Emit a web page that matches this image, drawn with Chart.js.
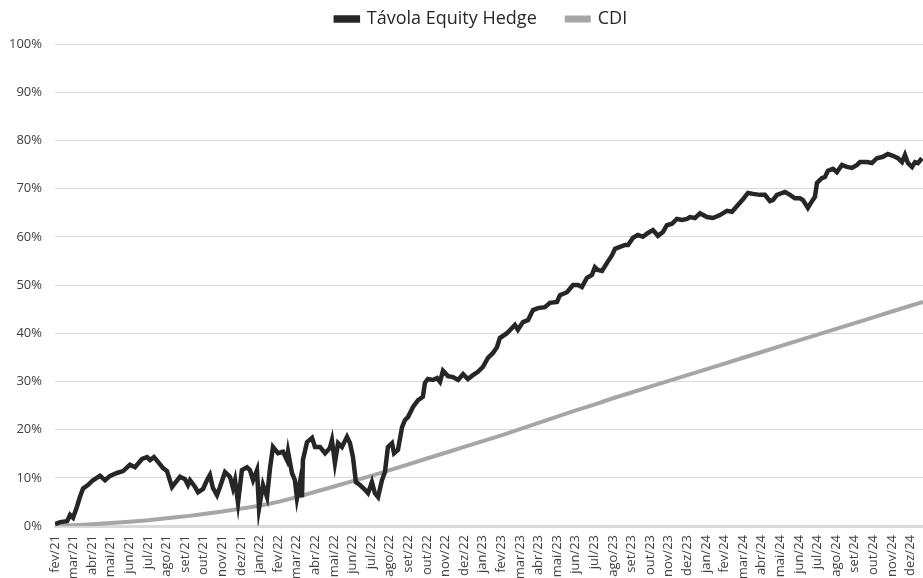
<!DOCTYPE html>
<html>
<head>
<meta charset="utf-8">
<script src="https://cdn.jsdelivr.net/npm/chart.js@4.4.1/dist/chart.umd.min.js"></script>
<style>
    html, body { margin: 0; padding: 0; background: #fff; overflow: hidden; }
    #wrap { width: 923px; height: 578px; overflow: hidden; }
</style>
</head>
<body>
<div id="wrap"><canvas id="lineChart" width="923" height="590"></canvas></div>
<script>
// month labels, fev/21 = index 0
var meses = ['fev/21', 'mar/21', 'abr/21', 'mai/21', 'jun/21', 'jul/21', 'ago/21', 'set/21', 'out/21', 'nov/21', 'dez/21',
    'jan/22', 'fev/22', 'mar/22', 'abr/22', 'mai/22', 'jun/22', 'jul/22', 'ago/22', 'set/22', 'out/22', 'nov/22', 'dez/22',
    'jan/23', 'fev/23', 'mar/23', 'abr/23', 'mai/23', 'jun/23', 'jul/23', 'ago/23', 'set/23', 'out/23', 'nov/23', 'dez/23',
    'jan/24', 'fev/24', 'mar/24', 'abr/24', 'mai/24', 'jun/24', 'jul/24', 'ago/24', 'set/24', 'out/24', 'nov/24', 'dez/24'];

// Távola Equity Hedge (x in months since fev/21, y in %)
var tavolaX = [0.00, 0.27, 0.65, 0.81, 0.97, 1.18, 1.34, 1.51, 1.77, 2.04, 2.42, 2.69, 2.96, 3.33, 3.66, 4.03, 4.30, 4.68, 4.95, 5.11,
    5.32, 5.54, 5.81, 6.02, 6.29, 6.45, 6.72, 6.99, 7.15, 7.26, 7.53, 7.69, 7.96, 8.17, 8.33, 8.49, 8.71, 8.87, 9.14, 9.41,
    9.57, 9.68, 9.84, 10.05, 10.32, 10.48, 10.65, 10.86, 10.97, 11.18, 11.40, 11.56, 11.72, 11.99, 12.26, 12.47, 12.53, 12.74, 12.90, 13.01,
    13.17, 13.28, 13.33, 13.55, 13.82, 13.98, 14.25, 14.52, 14.78, 14.89, 15.05, 15.22, 15.43, 15.70, 15.86, 16.02, 16.18, 16.40, 16.67, 16.83,
    17.04, 17.20, 17.37, 17.58, 17.74, 17.90, 18.12, 18.23, 18.44, 18.66, 18.82, 18.98, 19.25, 19.52, 19.78, 19.89, 20.05, 20.32, 20.54, 20.70,
    20.86, 21.13, 21.40, 21.67, 21.94, 22.20, 22.47, 22.74, 23.01, 23.28, 23.55, 23.76, 23.92, 24.30, 24.73, 24.89, 25.16, 25.43, 25.70, 25.97,
    26.34, 26.61, 26.99, 27.15, 27.53, 27.85, 28.12, 28.33, 28.60, 28.87, 29.03, 29.19, 29.41, 29.68, 29.95, 30.11, 30.38, 30.65, 30.81, 31.08,
    31.34, 31.61, 31.88, 32.15, 32.42, 32.69, 32.90, 33.17, 33.44, 33.71, 33.98, 34.14, 34.41, 34.68, 35.05, 35.38, 35.75, 36.13, 36.40, 36.67,
    36.99, 37.26, 37.53, 37.90, 38.17, 38.44, 38.60, 38.82, 39.25, 39.52, 39.78, 40.05, 40.22, 40.48, 40.70, 40.86, 40.97, 41.24, 41.40, 41.56,
    41.83, 42.04, 42.31, 42.58, 42.85, 43.12, 43.28, 43.66, 43.92, 44.19, 44.52, 44.78, 45.05, 45.32, 45.54, 45.70, 45.86, 46.08, 46.24, 46.40, 46.61];
var tavolaY = [0.4, 0.8, 1.0, 2.3, 1.7, 4.0, 6.0, 7.8, 8.5, 9.5, 10.4, 9.5, 10.4, 11.0, 11.4, 12.7, 12.2, 13.9, 14.3, 13.7,
    14.3, 13.3, 12.0, 11.4, 8.1, 8.9, 10.2, 9.7, 8.5, 9.5, 8.1, 7.0, 7.7, 9.5, 10.6, 7.9, 6.4, 8.1, 11.2, 10.2,
    7.9, 9.5, 4.8, 11.6, 12.2, 11.6, 9.5, 11.6, 3.7, 8.5, 6.0, 12.0, 16.4, 15.1, 15.4, 13.7, 15.4, 11.0, 9.5, 5.8,
    9.1, 6.0, 13.7, 17.4, 18.3, 16.4, 16.4, 15.1, 16.2, 17.8, 13.1, 17.2, 16.4, 18.5, 17.2, 14.3, 9.1, 8.5, 7.5, 6.8,
    9.1, 6.8, 6.0, 9.5, 11.2, 16.4, 17.2, 15.1, 15.8, 20.5, 22.0, 22.6, 24.7, 26.1, 26.8, 29.7, 30.5, 30.3, 30.7, 29.9,
    32.2, 31.1, 30.9, 30.3, 31.5, 30.5, 31.3, 32.0, 33.0, 34.9, 35.9, 37.1, 39.0, 40.0, 41.7, 40.7, 42.3, 42.7, 44.8, 45.2,
    45.4, 46.3, 46.5, 47.9, 48.5, 50.0, 50.0, 49.6, 51.5, 52.1, 53.7, 53.1, 52.9, 54.6, 56.2, 57.5, 57.9, 58.3, 58.3, 59.8,
    60.4, 60.0, 60.8, 61.4, 60.2, 61.0, 62.4, 62.7, 63.7, 63.5, 63.7, 64.1, 63.9, 64.9, 64.1, 63.9, 64.5, 65.4, 65.2, 66.4,
    67.8, 69.1, 68.9, 68.7, 68.7, 67.4, 67.6, 68.7, 69.3, 68.7, 68.0, 68.0, 67.6, 66.0, 67.4, 68.3, 71.2, 72.2, 72.4, 73.7,
    74.1, 73.4, 74.9, 74.5, 74.3, 74.9, 75.5, 75.5, 75.3, 76.3, 76.6, 77.2, 76.8, 76.3, 75.5, 77.0, 75.3, 74.5, 75.5, 75.3, 76.3];

// CDI
var cdiX = [0, 1, 2, 3, 4, 5, 6, 7, 8, 9, 10, 11, 12, 13, 14, 15, 16, 17, 18, 19, 20, 21, 22, 23,
    24, 25, 26, 27, 28, 29, 30, 31, 32, 33, 34, 35, 36, 37, 38, 39, 40, 41, 42, 43, 44, 45, 46, 46.67];
var cdiY = [0.0, 0.15, 0.35, 0.6, 0.9, 1.2, 1.6, 2.0, 2.5, 3.0, 3.6, 4.2, 5.0, 6.0, 7.1, 8.2, 9.3, 10.4, 11.6, 12.8, 14.0, 15.2, 16.4, 17.6,
    18.8, 20.1, 21.4, 22.7, 24.0, 25.2, 26.5, 27.7, 28.9, 30.1, 31.3, 32.5, 33.7, 34.9, 36.1, 37.3, 38.5, 39.7, 40.9, 42.1, 43.3, 44.5, 45.7, 46.5];

Grafico();

function Pontos(xs, ys) {
    var arr = [];
    for (var i = 0; i < xs.length; i++) {
        arr.push({ x: xs[i], y: ys[i] });
    }
    return arr;
}

function Grafico() {
    var ctx = document.getElementById('lineChart').getContext('2d');

    var fonte = "'Open Sans', sans-serif";

    // legend height fixed, and legend centred over the plot area
    var legendaAjuste = {
        id: 'legendaAjuste',
        beforeInit: function (chart) {
            var fitOrig = chart.legend.fit;
            chart.legend.fit = function () {
                fitOrig.bind(chart.legend)();
                this.height = 64;
            };
        },
        afterLayout: function (chart) {
            chart.legend.left += 20;
            chart.legend.right += 20;
        }
    };

    new Chart(ctx, {
        type: 'line',
        data: {
            datasets: [
                {
                    label: 'Távola Equity Hedge',
                    data: Pontos(tavolaX, tavolaY),
                    borderColor: '#262626',
                    backgroundColor: '#262626',
                    borderWidth: 4.5,
                    pointRadius: 0,
                    tension: 0
                },
                {
                    label: 'CDI',
                    data: Pontos(cdiX, cdiY),
                    borderColor: '#a6a6a6',
                    backgroundColor: '#a6a6a6',
                    borderWidth: 4,
                    pointRadius: 0,
                    tension: 0
                }
            ]
        },
        options: {
            responsive: false,
            animation: false,
            layout: { padding: { top: -20, left: 0, right: 0, bottom: 0 } },
            plugins: {
                tooltip: { enabled: false },
                legend: {
                    position: 'top',
                    labels: {
                        boxWidth: 22,
                        boxHeight: 3,
                        padding: 30,
                        color: '#262626',
                        font: { family: fonte, size: 18 }
                    }
                }
            },
            scales: {
                x: {
                    type: 'linear',
                    min: 0,
                    max: 46.67,
                    afterFit: function (scale) {
                        scale.height = 64;
                        scale.paddingLeft = 0;
                        scale.paddingRight = 0;
                    },
                    afterBuildTicks: function (scale) {
                        var t = [];
                        for (var i = 0; i < meses.length; i++) t.push({ value: i });
                        scale.ticks = t;
                    },
                    grid: { display: false, drawTicks: false },
                    border: { display: true, color: '#d9d9d9', width: 3 },
                    ticks: {
                        autoSkip: false,
                        minRotation: 90,
                        maxRotation: 90,
                        padding: 9,
                        color: '#404040',
                        font: { family: fonte, size: 13 },
                        callback: function (v) { return meses[v]; }
                    }
                },
                y: {
                    min: 0,
                    max: 100,
                    afterFit: function (scale) { scale.width = 55; },
                    grid: { color: '#d9d9d9', lineWidth: 1, drawTicks: false },
                    border: { display: false },
                    ticks: {
                        stepSize: 10,
                        padding: 13,
                        color: '#404040',
                        font: { family: fonte, size: 13 },
                        callback: function (v) { return v + '%'; }
                    }
                }
            }
        },
        plugins: [legendaAjuste]
    });
}
</script>
</body>
</html>
